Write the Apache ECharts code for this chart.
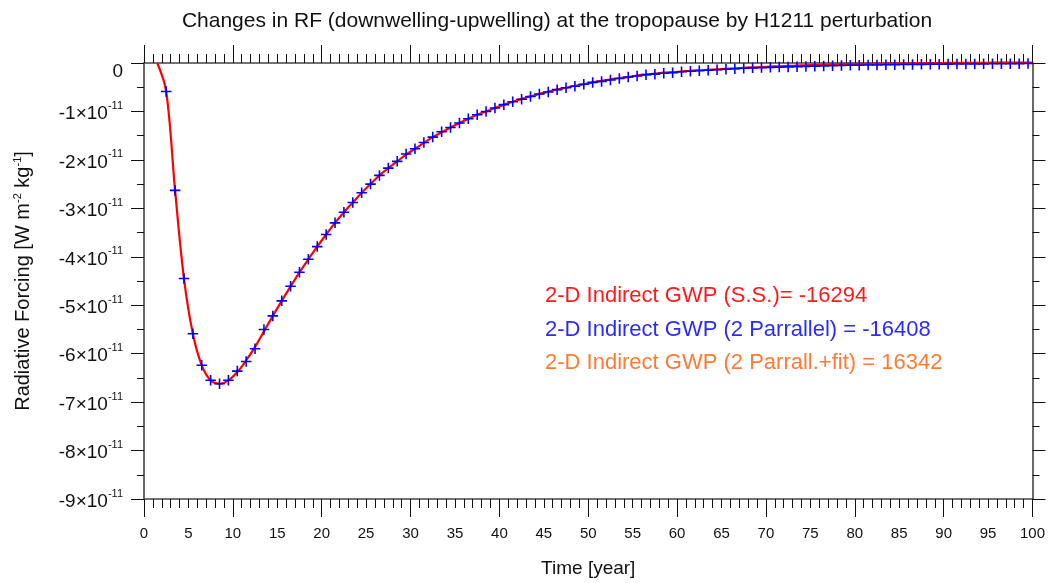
<!DOCTYPE html>
<html>
<head>
<meta charset="utf-8">
<script src="https://cdn.jsdelivr.net/npm/echarts@6/dist/echarts.min.js"></script>
<style>
html,body{margin:0;padding:0;background:#fff;}
#chart{width:1048px;height:583px;}
</style>
</head>
<body>
<div id="chart"></div>
<script>
// ---- data (radiative forcing in units of 1e-11 W m-2 kg-1) ----
var titleText = 'Changes in RF (downwelling-upwelling) at the tropopause by H1211 perturbation';
var xName = 'Time [year]';
var xTickLabels = ['0','5','10','15','20','25','30','35','40','45','50','55','60','65','70','75','80','85','90','95','100'];
var yTickLabels = ['0','-1','-2','-3','-4','-5','-6','-7','-8','-9'];

// Blue "+" markers: years 2.5 .. 99.5
var blueYears = [2.5,3.5,4.5,5.5,6.5,7.5,8.5,9.5,10.5,11.5,12.5,13.5,14.5,15.5,16.5,17.5,18.5,19.5,20.5,21.5,
  22.5,23.5,24.5,25.5,26.5,27.5,28.5,29.5,30.5,31.5,32.5,33.5,34.5,35.5,36.5,37.5,38.5,39.5,40.5,41.5,
  42.5,43.5,44.5,45.5,46.5,47.5,48.5,49.5,50.5,51.5,52.5,53.5,54.5,55.5,56.5,57.5,58.5,59.5,60.5,61.5,
  62.5,63.5,64.5,65.5,66.5,67.5,68.5,69.5,70.5,71.5,72.5,73.5,74.5,75.5,76.5,77.5,78.5,79.5,80.5,81.5,
  82.5,83.5,84.5,85.5,86.5,87.5,88.5,89.5,90.5,91.5,92.5,93.5,94.5,95.5,96.5,97.5,98.5,99.5];
var blueRF = [-0.59,-2.63,-4.45,-5.59,-6.24,-6.55,-6.62,-6.55,-6.36,-6.16,-5.90,-5.50,-5.22,-4.91,-4.61,-4.32,-4.05,-3.79,-3.54,-3.30,
  -3.08,-2.88,-2.68,-2.50,-2.32,-2.17,-2.03,-1.88,-1.77,-1.64,-1.53,-1.42,-1.33,-1.24,-1.15,-1.07,-1.00,-0.93,-0.86,-0.80,
  -0.75,-0.69,-0.64,-0.60,-0.55,-0.51,-0.48,-0.44,-0.40,-0.38,-0.35,-0.32,-0.29,-0.27,-0.24,-0.23,-0.21,-0.20,-0.18,-0.17,
  -0.16,-0.15,-0.14,-0.13,-0.12,-0.11,-0.10,-0.095,-0.09,-0.085,-0.08,-0.075,-0.07,-0.065,-0.06,-0.055,-0.05,-0.048,-0.045,-0.042,
  -0.04,-0.037,-0.035,-0.032,-0.03,-0.028,-0.026,-0.025,-0.023,-0.022,-0.02,-0.019,-0.018,-0.016,-0.015,-0.014,-0.013,-0.012];

// Red line (S.S.): years 1.5 .. 99.5 and 100
var redYears = [1.5,2.5,3.5,4.5,5.5,6.5,7.5,8.5,9.5,10.5,11.5,12.5,13.5,14.5,15.5,16.5,17.5,18.5,19.5,20.5,21.5,
  22.5,23.5,24.5,25.5,26.5,27.5,28.5,29.5,30.5,31.5,32.5,33.5,34.5,35.5,36.5,37.5,38.5,39.5,40.5,41.5,
  42.5,43.5,44.5,45.5,46.5,47.5,48.5,49.5,50.5,51.5,52.5,53.5,54.5,55.5,56.5,57.5,58.5,59.5,60.5,61.5,
  62.5,63.5,64.5,65.5,66.5,67.5,68.5,69.5,70.5,71.5,72.5,73.5,74.5,75.5,76.5,77.5,78.5,79.5,80.5,81.5,
  82.5,83.5,84.5,85.5,86.5,87.5,88.5,89.5,90.5,91.5,92.5,93.5,94.5,95.5,96.5,97.5,98.5,99.5,100];
var redRF = [0,-0.59,-2.63,-4.45,-5.59,-6.24,-6.55,-6.62,-6.55,-6.38,-6.14,-5.86,-5.54,-5.22,-4.91,-4.61,-4.32,-4.05,-3.79,-3.54,-3.30,
  -3.08,-2.88,-2.68,-2.50,-2.32,-2.17,-2.03,-1.89,-1.77,-1.65,-1.53,-1.43,-1.33,-1.24,-1.15,-1.07,-1.00,-0.93,-0.86,-0.80,
  -0.74,-0.69,-0.64,-0.59,-0.55,-0.51,-0.47,-0.44,-0.40,-0.37,-0.34,-0.31,-0.29,-0.26,-0.24,-0.22,-0.20,-0.19,-0.175,-0.16,
  -0.15,-0.14,-0.13,-0.12,-0.11,-0.10,-0.09,-0.085,-0.075,-0.068,-0.06,-0.054,-0.048,-0.042,-0.037,-0.032,-0.027,-0.023,-0.019,-0.016,
  -0.013,-0.010,-0.008,-0.006,-0.004,-0.002,-0.001,0,0.001,0.002,0.003,0.004,0.005,0.006,0.006,0.007,0.008,0.008,0.009];

var notes = [
  {text: '2-D Indirect GWP (S.S.)= -16294', color: '#ff1a1a'},
  {text: '2-D Indirect GWP (2 Parrallel) = -16408', color: '#2b2bff'},
  {text: '2-D Indirect GWP (2 Parrall.+fit) = 16342', color: '#ff7a33'}
];

// ---- chart ----
var FONT = 'Liberation Sans';
var chart = echarts.init(document.getElementById('chart'), null, {renderer: 'canvas'});

function pairs(xs, ys) { return xs.map(function (x, i) { return [x, ys[i]]; }); }

var plusPath = 'path://M4.25,0 H5.75 V4.25 H10 V5.75 H5.75 V10 H4.25 V5.75 H0 V4.25 H4.25 Z';
var lineCol = '#444';
var tickCol = '#111';

function xAxisMain(pos) {
  return {
    type: 'value', position: pos, min: 0, max: 100, interval: 10,
    axisLine: {show: true, onZero: false, lineStyle: {color: lineCol, width: 1.6}},
    axisTick: {show: true, length: 18, lineStyle: {color: tickCol, width: 1}},
    minorTick: {show: true, splitNumber: 10, length: 9, lineStyle: {color: tickCol, width: 1}},
    axisLabel: {show: false},
    splitLine: {show: false}, minorSplitLine: {show: false}
  };
}

var yLabelRich = {
  a: {fontFamily: FONT, fontSize: 19, color: '#111', lineHeight: 22, padding: [5, 0, 0, 0]},
  b: {fontFamily: FONT, fontSize: 11, color: '#111', verticalAlign: 'top', lineHeight: 12},
  z: {fontFamily: FONT, fontSize: 19, color: '#111', padding: [18, 0, 0, 0]}
};

function yAxis(pos, showLabel) {
  return {
    type: 'value', position: pos, min: -9, max: 0, interval: 1,
    name: showLabel ? '{t|Radiative Forcing [W m}{s|-2}{t| kg}{s|-1}{t|]}' : '',
    nameLocation: 'middle', nameGap: 110, nameRotate: 90,
    nameTextStyle: {rich: {
      t: {fontFamily: FONT, fontSize: 20, color: '#111', lineHeight: 22},
      s: {fontFamily: FONT, fontSize: 11, color: '#111', verticalAlign: 'top', lineHeight: 12}
    }},
    axisLine: {show: true, onZero: false, lineStyle: {color: lineCol, width: 1.6}},
    axisTick: {show: true, length: 13, lineStyle: {color: tickCol, width: 1}},
    minorTick: {show: true, splitNumber: 2, length: 7, lineStyle: {color: tickCol, width: 1}},
    axisLabel: {
      show: showLabel, margin: 21, align: 'right',
      formatter: function (v) {
        var idx = Math.round(-v);
        var lab = yTickLabels[idx];
        if (lab === '0') return '{z|0}';
        return '{a|' + lab + '×10}{b|-11}';
      },
      rich: yLabelRich
    },
    splitLine: {show: false}, minorSplitLine: {show: false}
  };
}

var graphics = notes.map(function (n, i) {
  return {
    type: 'text', left: 545, top: 285 + i * 33.5,
    style: {text: n.text, fill: n.color, font: '22px "' + FONT + '"'}
  };
});

var option = {
  backgroundColor: '#ffffff',
  animation: false,
  title: {
    text: titleText, left: 552, top: 6, textAlign: 'center',
    textStyle: {fontFamily: FONT, fontSize: 21, fontWeight: 'normal', color: '#111'}
  },
  grid: {left: 144, right: 14, top: 63, bottom: 84, containLabel: false},
  xAxis: [
    xAxisMain('bottom'),
    {
      type: 'value', position: 'bottom', min: 0, max: 100, interval: 5,
      name: xName, nameLocation: 'middle', nameGap: 60,
      nameTextStyle: {fontFamily: FONT, fontSize: 19, color: '#111'},
      axisLine: {show: false}, axisTick: {show: false}, splitLine: {show: false},
      axisLabel: {
        show: true, margin: 27, fontFamily: FONT, fontSize: 15, color: '#111',
        formatter: function (v) { return xTickLabels[Math.round(v / 5)]; }
      }
    },
    xAxisMain('top')
  ],
  yAxis: [yAxis('left', true), yAxis('right', false)],
  graphic: graphics,
  series: [
    {
      type: 'line', name: 'S.S.', xAxisIndex: 0, yAxisIndex: 0,
      data: pairs(redYears, redRF), smooth: 0.35, showSymbol: false, clip: false,
      lineStyle: {color: '#ff0000', width: 2.2}, z: 2
    },
    {
      type: 'scatter', name: '2 Parrallel', xAxisIndex: 0, yAxisIndex: 0,
      data: pairs(blueYears, blueRF), symbol: plusPath, symbolSize: 10.5, clip: false,
      itemStyle: {color: '#0000ff', opacity: 1}, z: 3
    }
  ]
};
chart.setOption(option);
</script>
</body>
</html>
